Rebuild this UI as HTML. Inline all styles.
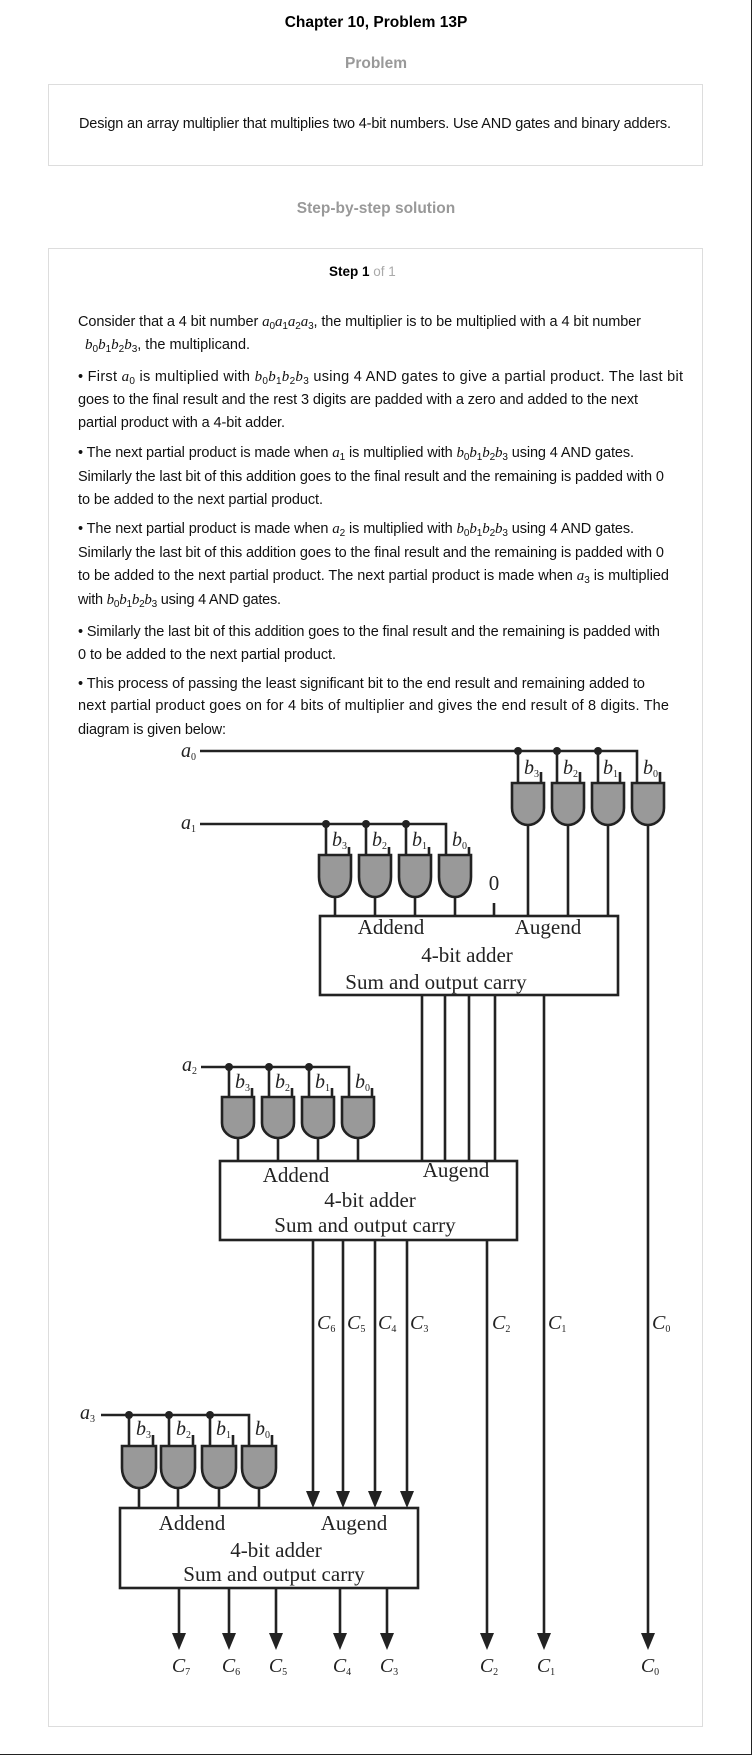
<!DOCTYPE html>
<html><head><meta charset="utf-8"><style>
html,body{margin:0;padding:0;background:#fff;}
svg{display:block;}
.b{font-family:"Liberation Sans",sans-serif;font-size:14.5px;fill:#111;}
.m{font-family:"Liberation Serif",serif;font-style:italic;font-size:15px;}
.s{font-size:10px;font-style:normal;}
.d{font-family:"Liberation Serif",serif;font-size:21px;fill:#222;}
.i{font-family:"Liberation Serif",serif;font-style:italic;font-size:20px;fill:#222;}
.w{stroke:#222;stroke-width:2.6;fill:none;}
.g{fill:#999;stroke:#222;stroke-width:2.6;}
</style></head><body>
<svg width="752" height="1755" viewBox="0 0 752 1755" xmlns="http://www.w3.org/2000/svg">
<line x1="751.5" y1="0" x2="751.5" y2="1755" stroke="#222" stroke-width="1"/>
<line x1="0" y1="1754.5" x2="752" y2="1754.5" stroke="#222" stroke-width="1"/>
<text x="376" y="27" text-anchor="middle" font-family="Liberation Sans,sans-serif" font-weight="bold" font-size="15.5" fill="#000">Chapter 10, Problem 13P</text>
<text x="376" y="68" text-anchor="middle" font-family="Liberation Sans,sans-serif" font-weight="bold" font-size="15.5" fill="#999">Problem</text>
<rect x="48.5" y="84.5" width="654" height="81" fill="none" stroke="#ddd"/>
<text x="79" y="128" class="b" textLength="592" lengthAdjust="spacing">Design an array multiplier that multiplies two 4-bit numbers. Use AND gates and binary adders.</text>
<text x="376" y="213" text-anchor="middle" font-family="Liberation Sans,sans-serif" font-weight="bold" font-size="15.5" fill="#999">Step-by-step solution</text>
<rect x="48.5" y="248.5" width="654" height="1478" fill="none" stroke="#ddd"/>
<text x="329" y="276" font-family="Liberation Sans,sans-serif" font-size="13.5"><tspan font-weight="bold" fill="#000">Step 1</tspan><tspan fill="#aaa"> of 1</tspan></text>

<text x="78" y="326" class="b" textLength="563" lengthAdjust="spacing">Consider that a 4 bit number <tspan class="m">a</tspan><tspan class="s" dy="3">0</tspan><tspan class="m" dy="-3">a</tspan><tspan class="s" dy="3">1</tspan><tspan class="m" dy="-3">a</tspan><tspan class="s" dy="3">2</tspan><tspan class="m" dy="-3">a</tspan><tspan class="s" dy="3">3</tspan><tspan dy="-3">, the multiplier is to be multiplied with a 4 bit number</tspan></text>
<text x="85" y="349" class="b"><tspan class="m">b</tspan><tspan class="s" dy="3">0</tspan><tspan class="m" dy="-3">b</tspan><tspan class="s" dy="3">1</tspan><tspan class="m" dy="-3">b</tspan><tspan class="s" dy="3">2</tspan><tspan class="m" dy="-3">b</tspan><tspan class="s" dy="3">3</tspan><tspan dy="-3">, the multiplicand.</tspan></text>
<text x="78" y="381" class="b" textLength="605" lengthAdjust="spacing">• First  <tspan class="m">a</tspan><tspan class="s" dy="3">0</tspan><tspan dy="-3">  is multiplied with </tspan><tspan class="m">b</tspan><tspan class="s" dy="3">0</tspan><tspan class="m" dy="-3">b</tspan><tspan class="s" dy="3">1</tspan><tspan class="m" dy="-3">b</tspan><tspan class="s" dy="3">2</tspan><tspan class="m" dy="-3">b</tspan><tspan class="s" dy="3">3</tspan><tspan dy="-3"> using 4 AND gates to give a partial product. The last bit</tspan></text>
<text x="78" y="404" class="b" textLength="560" lengthAdjust="spacing">goes to the final result and the rest 3 digits are padded with a zero and added to the next</text>
<text x="78" y="427" class="b" textLength="207" lengthAdjust="spacing">partial product with a 4-bit adder.</text>
<text x="78" y="457" class="b" textLength="556" lengthAdjust="spacing">• The next partial product is made when  <tspan class="m">a</tspan><tspan class="s" dy="3">1</tspan><tspan dy="-3">  is multiplied with </tspan><tspan class="m">b</tspan><tspan class="s" dy="3">0</tspan><tspan class="m" dy="-3">b</tspan><tspan class="s" dy="3">1</tspan><tspan class="m" dy="-3">b</tspan><tspan class="s" dy="3">2</tspan><tspan class="m" dy="-3">b</tspan><tspan class="s" dy="3">3</tspan><tspan dy="-3"> using 4 AND gates.</tspan></text>
<text x="78" y="481" class="b" textLength="586" lengthAdjust="spacing">Similarly the last bit of this addition goes to the final result and the remaining is padded with 0</text>
<text x="78" y="504" class="b" textLength="245" lengthAdjust="spacing">to be added to the next partial product.</text>
<text x="78" y="533" class="b" textLength="556" lengthAdjust="spacing">• The next partial product is made when  <tspan class="m">a</tspan><tspan class="s" dy="3">2</tspan><tspan dy="-3">  is multiplied with </tspan><tspan class="m">b</tspan><tspan class="s" dy="3">0</tspan><tspan class="m" dy="-3">b</tspan><tspan class="s" dy="3">1</tspan><tspan class="m" dy="-3">b</tspan><tspan class="s" dy="3">2</tspan><tspan class="m" dy="-3">b</tspan><tspan class="s" dy="3">3</tspan><tspan dy="-3"> using 4 AND gates.</tspan></text>
<text x="78" y="557" class="b" textLength="586" lengthAdjust="spacing">Similarly the last bit of this addition goes to the final result and the remaining is padded with 0</text>
<text x="78" y="580" class="b" textLength="591" lengthAdjust="spacing">to be added to the next partial product. The next partial product is made when  <tspan class="m">a</tspan><tspan class="s" dy="3">3</tspan><tspan dy="-3">  is multiplied</tspan></text>
<text x="78" y="604" class="b" textLength="203" lengthAdjust="spacing">with <tspan class="m">b</tspan><tspan class="s" dy="3">0</tspan><tspan class="m" dy="-3">b</tspan><tspan class="s" dy="3">1</tspan><tspan class="m" dy="-3">b</tspan><tspan class="s" dy="3">2</tspan><tspan class="m" dy="-3">b</tspan><tspan class="s" dy="3">3</tspan><tspan dy="-3"> using 4 AND gates.</tspan></text>
<text x="78" y="636" class="b" textLength="582" lengthAdjust="spacing">• Similarly the last bit of this addition goes to the final result and the remaining is padded with</text>
<text x="78" y="659" class="b" textLength="258" lengthAdjust="spacing">0 to be added to the next partial product.</text>
<text x="78" y="688" class="b" textLength="567" lengthAdjust="spacing">• This process of passing the least significant bit to the end result and remaining added to</text>
<text x="78" y="710" class="b" textLength="591" lengthAdjust="spacing">next partial product goes on for 4 bits of multiplier and gives the end result of 8 digits. The</text>
<text x="78" y="734" class="b" textLength="148" lengthAdjust="spacing">diagram is given below:</text>

<!-- DIAGRAM -->
<g class="w">
<polyline points="200,751 637,751 637,783"/>
<line x1="518" y1="751" x2="518" y2="783"/><line x1="557" y1="751" x2="557" y2="783"/><line x1="598" y1="751" x2="598" y2="783"/>
<line x1="541" y1="772" x2="541" y2="783"/><line x1="580" y1="772" x2="580" y2="783"/><line x1="620" y1="772" x2="620" y2="783"/><line x1="660" y1="772" x2="660" y2="783"/>
<line x1="528" y1="825" x2="528" y2="916"/><line x1="568" y1="825" x2="568" y2="916"/><line x1="608" y1="825" x2="608" y2="916"/>
<line x1="648" y1="825" x2="648" y2="1636"/>
<polyline points="200,824 446,824 446,855"/>
<line x1="326" y1="824" x2="326" y2="855"/><line x1="366" y1="824" x2="366" y2="855"/><line x1="406" y1="824" x2="406" y2="855"/>
<line x1="349" y1="847" x2="349" y2="855"/><line x1="389" y1="847" x2="389" y2="855"/><line x1="429" y1="847" x2="429" y2="855"/><line x1="469" y1="847" x2="469" y2="855"/>
<line x1="335" y1="897" x2="335" y2="916"/><line x1="375" y1="897" x2="375" y2="916"/><line x1="415" y1="897" x2="415" y2="916"/><line x1="455" y1="897" x2="455" y2="916"/>
<line x1="494" y1="903" x2="494" y2="916"/>
<rect x="320" y="916" width="298" height="79" fill="#fff"/>
<line x1="422" y1="995" x2="422" y2="1161"/><line x1="445" y1="995" x2="445" y2="1161"/><line x1="469" y1="995" x2="469" y2="1161"/><line x1="495" y1="995" x2="495" y2="1161"/>
<line x1="544" y1="995" x2="544" y2="1636"/>
<polyline points="201,1067 349,1067 349,1097"/>
<line x1="229" y1="1067" x2="229" y2="1097"/><line x1="269" y1="1067" x2="269" y2="1097"/><line x1="309" y1="1067" x2="309" y2="1097"/>
<line x1="252" y1="1088" x2="252" y2="1097"/><line x1="292" y1="1088" x2="292" y2="1097"/><line x1="332" y1="1088" x2="332" y2="1097"/><line x1="372" y1="1088" x2="372" y2="1097"/>
<line x1="238" y1="1138" x2="238" y2="1161"/><line x1="278" y1="1138" x2="278" y2="1161"/><line x1="318" y1="1138" x2="318" y2="1161"/><line x1="358" y1="1138" x2="358" y2="1161"/>
<rect x="220" y="1161" width="297" height="79" fill="#fff"/>
<line x1="313" y1="1240" x2="313" y2="1494"/><line x1="343" y1="1240" x2="343" y2="1494"/><line x1="375" y1="1240" x2="375" y2="1494"/><line x1="407" y1="1240" x2="407" y2="1494"/>
<line x1="487" y1="1240" x2="487" y2="1636"/>
<polyline points="101,1415 249,1415 249,1446"/>
<line x1="129" y1="1415" x2="129" y2="1446"/><line x1="169" y1="1415" x2="169" y2="1446"/><line x1="210" y1="1415" x2="210" y2="1446"/>
<line x1="153" y1="1435" x2="153" y2="1446"/><line x1="193" y1="1435" x2="193" y2="1446"/><line x1="233" y1="1435" x2="233" y2="1446"/><line x1="272" y1="1435" x2="272" y2="1446"/>
<line x1="139" y1="1488" x2="139" y2="1508"/><line x1="178" y1="1488" x2="178" y2="1508"/><line x1="219" y1="1488" x2="219" y2="1508"/><line x1="259" y1="1488" x2="259" y2="1508"/>
<rect x="120" y="1508" width="298" height="80" fill="#fff"/>
<line x1="179" y1="1588" x2="179" y2="1636"/><line x1="229" y1="1588" x2="229" y2="1636"/><line x1="276" y1="1588" x2="276" y2="1636"/><line x1="340" y1="1588" x2="340" y2="1636"/><line x1="387" y1="1588" x2="387" y2="1636"/>
</g>
<g class="g">
<path d="M512,783H544V808A16,17 0 0 1 512,808Z"/><path d="M552,783H584V808A16,17 0 0 1 552,808Z"/><path d="M592,783H624V808A16,17 0 0 1 592,808Z"/><path d="M632,783H664V808A16,17 0 0 1 632,808Z"/>
<path d="M319,855H351V877A16,20 0 0 1 319,877Z"/><path d="M359,855H391V877A16,20 0 0 1 359,877Z"/><path d="M399,855H431V877A16,20 0 0 1 399,877Z"/><path d="M439,855H471V877A16,20 0 0 1 439,877Z"/>
<path d="M222,1097H254V1123A16,15 0 0 1 222,1123Z"/><path d="M262,1097H294V1123A16,15 0 0 1 262,1123Z"/><path d="M302,1097H334V1123A16,15 0 0 1 302,1123Z"/><path d="M342,1097H374V1123A16,15 0 0 1 342,1123Z"/>
<path d="M122,1446H156V1468A17,20 0 0 1 122,1468Z"/><path d="M161,1446H195V1468A17,20 0 0 1 161,1468Z"/><path d="M202,1446H236V1468A17,20 0 0 1 202,1468Z"/><path d="M242,1446H276V1468A17,20 0 0 1 242,1468Z"/>
</g>
<g fill="#222">
<circle cx="518" cy="751" r="4"/><circle cx="557" cy="751" r="4"/><circle cx="598" cy="751" r="4"/>
<circle cx="326" cy="824" r="4"/><circle cx="366" cy="824" r="4"/><circle cx="406" cy="824" r="4"/>
<circle cx="229" cy="1067" r="4"/><circle cx="269" cy="1067" r="4"/><circle cx="309" cy="1067" r="4"/>
<circle cx="129" cy="1415" r="4"/><circle cx="169" cy="1415" r="4"/><circle cx="210" cy="1415" r="4"/>
<polygon points="313,1508 306,1491 320,1491"/><polygon points="343,1508 336,1491 350,1491"/><polygon points="375,1508 368,1491 382,1491"/><polygon points="407,1508 400,1491 414,1491"/>
<polygon points="179,1650 172,1633 186,1633"/><polygon points="229,1650 222,1633 236,1633"/><polygon points="276,1650 269,1633 283,1633"/><polygon points="340,1650 333,1633 347,1633"/><polygon points="387,1650 380,1633 394,1633"/>
<polygon points="487,1650 480,1633 494,1633"/><polygon points="544,1650 537,1633 551,1633"/><polygon points="648,1650 641,1633 655,1633"/>
</g>
<text class="i" x="181" y="757">a<tspan class="s" font-size="11" dy="3">0</tspan></text>
<text class="i" x="181" y="829">a<tspan class="s" font-size="11" dy="3">1</tspan></text>
<text class="i" x="182" y="1071">a<tspan class="s" font-size="11" dy="3">2</tspan></text>
<text class="i" x="80" y="1419">a<tspan class="s" font-size="11" dy="3">3</tspan></text>
<g class="i" font-size="18">
<text x="524" y="774">b<tspan class="s" font-size="10" dy="3">3</tspan></text><text x="563" y="774">b<tspan class="s" font-size="10" dy="3">2</tspan></text><text x="603" y="774">b<tspan class="s" font-size="10" dy="3">1</tspan></text><text x="643" y="774">b<tspan class="s" font-size="10" dy="3">0</tspan></text>
<text x="332" y="846">b<tspan class="s" font-size="10" dy="3">3</tspan></text><text x="372" y="846">b<tspan class="s" font-size="10" dy="3">2</tspan></text><text x="412" y="846">b<tspan class="s" font-size="10" dy="3">1</tspan></text><text x="452" y="846">b<tspan class="s" font-size="10" dy="3">0</tspan></text>
<text x="235" y="1088">b<tspan class="s" font-size="10" dy="3">3</tspan></text><text x="275" y="1088">b<tspan class="s" font-size="10" dy="3">2</tspan></text><text x="315" y="1088">b<tspan class="s" font-size="10" dy="3">1</tspan></text><text x="355" y="1088">b<tspan class="s" font-size="10" dy="3">0</tspan></text>
<text x="136" y="1435">b<tspan class="s" font-size="10" dy="3">3</tspan></text><text x="176" y="1435">b<tspan class="s" font-size="10" dy="3">2</tspan></text><text x="216" y="1435">b<tspan class="s" font-size="10" dy="3">1</tspan></text><text x="255" y="1435">b<tspan class="s" font-size="10" dy="3">0</tspan></text>
</g>
<text class="d" x="494" y="890" text-anchor="middle">0</text>
<g class="d" text-anchor="middle">
<text x="391" y="934">Addend</text><text x="548" y="934">Augend</text><text x="467" y="962">4-bit adder</text><text x="436" y="989">Sum and output carry</text>
<text x="296" y="1182">Addend</text><text x="456" y="1177">Augend</text><text x="370" y="1207">4-bit adder</text><text x="365" y="1232">Sum and output carry</text>
<text x="192" y="1530">Addend</text><text x="354" y="1530">Augend</text><text x="276" y="1557">4-bit adder</text><text x="274" y="1581">Sum and output carry</text>
</g>
<g class="i">
<text x="317" y="1329">C<tspan class="s" font-size="11" dy="3">6</tspan></text>
<text x="347" y="1329">C<tspan class="s" font-size="11" dy="3">5</tspan></text>
<text x="378" y="1329">C<tspan class="s" font-size="11" dy="3">4</tspan></text>
<text x="410" y="1329">C<tspan class="s" font-size="11" dy="3">3</tspan></text>
<text x="492" y="1329">C<tspan class="s" font-size="11" dy="3">2</tspan></text>
<text x="548" y="1329">C<tspan class="s" font-size="11" dy="3">1</tspan></text>
<text x="652" y="1329">C<tspan class="s" font-size="11" dy="3">0</tspan></text>
</g>
<g class="i" text-anchor="middle">
<text x="181" y="1672">C<tspan class="s" font-size="11" dy="3">7</tspan></text>
<text x="231" y="1672">C<tspan class="s" font-size="11" dy="3">6</tspan></text>
<text x="278" y="1672">C<tspan class="s" font-size="11" dy="3">5</tspan></text>
<text x="342" y="1672">C<tspan class="s" font-size="11" dy="3">4</tspan></text>
<text x="389" y="1672">C<tspan class="s" font-size="11" dy="3">3</tspan></text>
<text x="489" y="1672">C<tspan class="s" font-size="11" dy="3">2</tspan></text>
<text x="546" y="1672">C<tspan class="s" font-size="11" dy="3">1</tspan></text>
<text x="650" y="1672">C<tspan class="s" font-size="11" dy="3">0</tspan></text>
</g>
</svg>
</body></html>
